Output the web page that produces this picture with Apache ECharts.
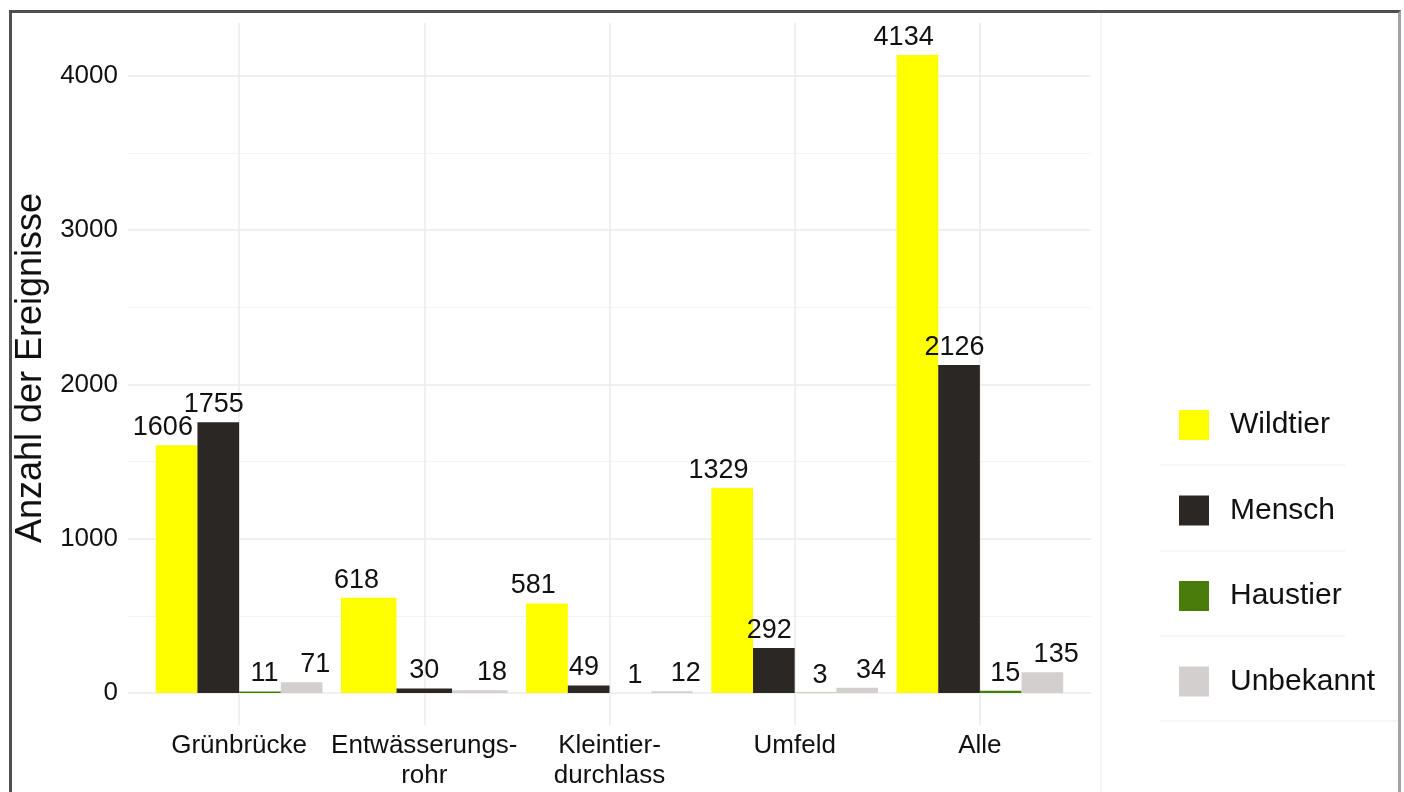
<!DOCTYPE html>
<html>
<head>
<meta charset="utf-8">
<script src="https://cdn.jsdelivr.net/npm/echarts@6/dist/echarts.min.js"></script>
<style>
  html, body { margin: 0; padding: 0; background: #fff; overflow: hidden; }
  #chart { position: absolute; left: 0; top: 0; width: 1404px; height: 792px; }
  #frame {
    position: absolute; left: 9px; top: 10px; width: 1386px; height: 800px;
    border-top: 3px solid #505050; border-left: 3px solid #505050; border-right: 3px solid #a3a3a3;
    pointer-events: none;
  }
</style>
</head>
<body>
<div id="chart"></div>
<div id="frame"></div>
<script>
// Event counts per location and source
const categories = ['Grünbrücke', 'Entwässerungs-\nrohr', 'Kleintier-\ndurchlass', 'Umfeld', 'Alle'];
const seriesNames = ['Wildtier', 'Mensch', 'Haustier', 'Unbekannt'];
const wildtier = [1606, 618, 581, 1329, 4134];
const mensch = [1755, 30, 49, 292, 2126];
const haustier = [11, null, 1, 3, 15];   // no Haustier events at the Entwässerungsrohr
const unbekannt = [71, 18, 12, 34, 135];
const colors = ['#ffff00', '#2b2724', '#4a7c0c', '#d4cfcf'];

const values = [wildtier, mensch, haustier, unbekannt];

// Panel geometry (ggplot-like: discrete axis expanded by 0.6 units, value axis by 5 %)
const panelLeft = 128, panelRight = 1091, panelTop = 23, panelBottom = 725;
const W = 1404, H = 792;
const nCat = categories.length;
const band = (panelRight - panelLeft) / (nCat + 0.2);
const barsLeft = panelLeft + 0.1 * band;
const barsRight = panelRight - 0.1 * band;

const maxVal = Math.max(...values.flat().filter(v => v != null));
const yMin = -0.05 * maxVal;
const yMax = 1.05 * maxVal;

// Categories where every source has a value get four dodged bars, the others fewer
const full = categories.map((_, i) => values.every(v => v[i] != null));
const presentInPartial = values.map(v => categories.some((_, i) => !full[i] && v[i] != null));

const fontFamily = '"Liberation Sans", Arial, sans-serif';

function makeSeries(axisIndex, slotCount, slot, k, pick) {
  const barStep = band * 0.9 / slotCount;
  const offset = (slot - (slotCount - 1) / 2) * barStep * 0.22;
  return {
    name: seriesNames[k],
    type: 'bar',
    xAxisIndex: axisIndex,
    yAxisIndex: 1,
    barGap: '0%',
    barCategoryGap: '10%',
    itemStyle: { color: colors[k] },
    label: {
      show: true,
      position: 'top',
      distance: 4,
      offset: [offset, 0],
      fontSize: 27,
      fontFamily: fontFamily,
      color: '#111'
    },
    emphasis: { disabled: true },
    data: values[k].map((v, i) => (pick(i) && v != null ? v : '-'))
  };
}

const series = [];
values.forEach((_, k) => series.push(makeSeries(1, 4, k, k, i => full[i])));
const partialKeys = values.map((_, k) => k).filter(k => presentInPartial[k]);
partialKeys.forEach((k, slot) =>
  series.push(makeSeries(2, partialKeys.length, slot, k, i => !full[i])));

const gridColor = '#ebebeb';
const minorColor = '#f4f4f4';

const legendSeps = [465, 551, 636, 721];

const option = {
  animation: false,
  backgroundColor: '#fff',
  textStyle: { fontFamily: fontFamily },
  grid: [
    { left: panelLeft, right: W - panelRight, top: panelTop, bottom: H - panelBottom, containLabel: false },
    { left: barsLeft, right: W - barsRight, top: panelTop, bottom: H - panelBottom, containLabel: false }
  ],
  xAxis: [
    {
      type: 'value', gridIndex: 0,
      min: 0.4, max: nCat + 0.6, minInterval: 1, maxInterval: 1,
      axisLine: { show: false }, axisTick: { show: false }, axisLabel: { show: false },
      splitLine: { show: true, showMinLine: false, showMaxLine: false, lineStyle: { color: gridColor, width: 1.5 } }
    },
    {
      type: 'category', gridIndex: 1, data: categories,
      axisLine: { show: false }, axisTick: { show: false }, splitLine: { show: false },
      axisLabel: { fontSize: 26, lineHeight: 30, color: '#111', margin: 6, interval: 0, fontFamily: fontFamily }
    },
    {
      type: 'category', gridIndex: 1, data: categories, show: false
    }
  ],
  yAxis: [
    {
      type: 'value', gridIndex: 0,
      min: yMin, max: yMax, minInterval: 1000, maxInterval: 1000,
      axisLine: { show: false }, axisTick: { show: false },
      axisLabel: {
        fontSize: 26, color: '#111', margin: 10, showMinLabel: false, showMaxLabel: false,
        fontFamily: fontFamily, formatter: v => String(Math.round(v))
      },
      splitLine: { show: true, showMinLine: false, showMaxLine: false, lineStyle: { color: gridColor, width: 1.5 } },
      minorTick: { show: false, splitNumber: 2 },
      minorSplitLine: { show: true, lineStyle: { color: minorColor, width: 1.2 } },
      name: 'Anzahl der Ereignisse',
      nameLocation: 'middle',
      nameGap: 73,
      nameTextStyle: { fontSize: 36, color: '#111', fontFamily: fontFamily, padding: [0, 0, 0, 12] }
    },
    {
      type: 'value', gridIndex: 1, min: yMin, max: yMax, show: false,
      splitLine: { show: false }
    }
  ],
  legend: {
    data: seriesNames,
    orient: 'vertical',
    left: 1179,
    top: 410,
    padding: 0,
    itemWidth: 30,
    itemHeight: 30,
    itemGap: 55.5,
    icon: 'rect',
    selectedMode: false,
    textStyle: { fontSize: 30, lineHeight: 30, color: '#111', padding: [0, 0, 0, 16], fontFamily: fontFamily }
  },
  graphic: [
    { type: 'line', silent: true, shape: { x1: 1101, y1: 13, x2: 1101, y2: H }, style: { stroke: '#f3f3f3', lineWidth: 1.5 } }
  ].concat(legendSeps.map((y, i) => ({
    type: 'line', silent: true,
    shape: { x1: 1160, y1: y, x2: i === legendSeps.length - 1 ? 1398 : 1345, y2: y },
    style: { stroke: '#f3f3f3', lineWidth: 1.5 }
  }))),
  series: series
};

const chart = echarts.init(document.getElementById('chart'), null, { renderer: 'canvas' });
chart.setOption(option);
</script>
</body>
</html>
